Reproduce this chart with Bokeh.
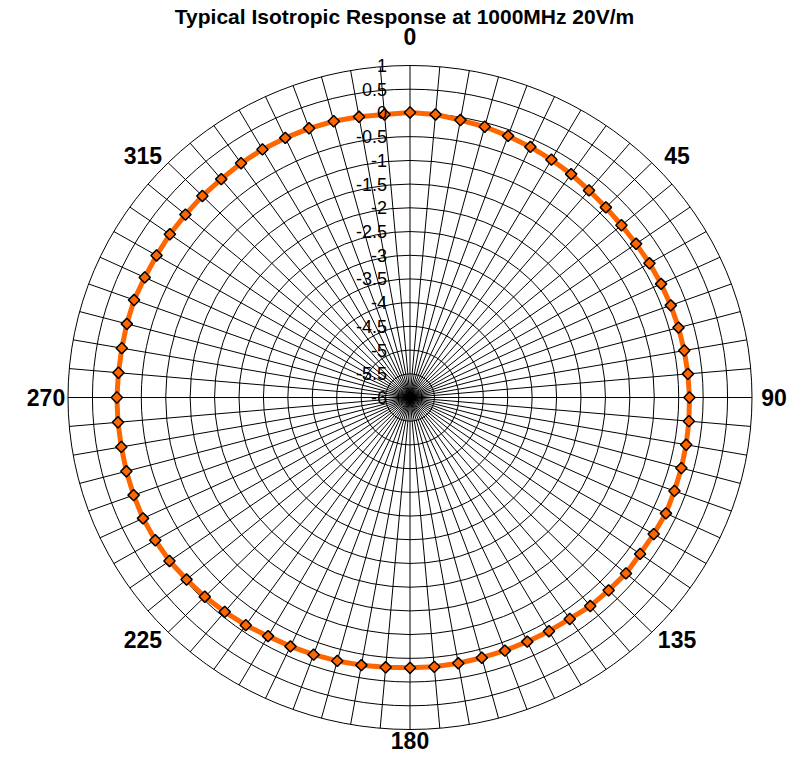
import numpy as np
from bokeh.plotting import figure
from bokeh.models import Range1d
from bokeh.core.properties import value
from bokeh.embed import file_html
from bokeh.resources import INLINE

# ---------------- data ----------------
chart_title = "Typical Isotropic Response at 1000MHz 20V/m"
angles_deg = list(range(0, 360, 5))
response = [
    0.01, -0.01, -0.06, -0.09, -0.13, -0.17, -0.21, -0.25, -0.30, -0.33,
    -0.35, -0.35, -0.34, -0.33, -0.32, -0.31, -0.30, -0.29, -0.28, -0.27,
    -0.26, -0.25, -0.24, -0.22, -0.24, -0.25, -0.23, -0.25, -0.26, -0.30,
    -0.31, -0.32, -0.32, -0.32, -0.31, -0.30, -0.30, -0.29, -0.27, -0.25,
    -0.23, -0.21, -0.19, -0.14, -0.10, -0.06, -0.03, 0.01, 0.02, 0.03,
    0.02, 0.01, 0.00, 0.00, 0.00, -0.01, -0.01, 0.00, 0.01, -0.01,
    -0.01, 0.00, 0.00, 0.01, 0.01, 0.03, 0.04, 0.04, 0.04, 0.03,
    0.01, -0.01,
]
radial_min, radial_max, radial_step = -6.0, 1.0, 0.5
radial_tick_labels = ["-6", "-5.5", "-5", "-4.5", "-4", "-3.5", "-3", "-2.5",
                      "-2", "-1.5", "-1", "-0.5", "0", "0.5", "1"]
angle_label_deg = [0, 45, 90, 135, 180, 225, 270, 315]
angle_label_text = ["0", "45", "90", "135", "180", "225", "270", "315"]
spoke_step_deg = 5

# ---------------- layout ----------------
W, H = 788, 757
cx_px, cy_px = 409.5, 397.0          # plot centre in figure pixels
R_px_x, R_px_y = 342.0, 332.0        # outer radius in pixels (x / y)
span = radial_max - radial_min
sx = R_px_x / span
sy = R_px_y / span

def dx(px):
    return px / sx

def dy(py):
    return py / sy

p = figure(width=W, height=H, output_backend="svg", toolbar_location=None,
           x_range=Range1d(-cx_px / sx, (W - cx_px) / sx),
           y_range=Range1d(-(H - cy_px) / sy, cy_px / sy),
           x_axis_location=None, y_axis_location=None, min_border=0)
p.grid.visible = False
p.outline_line_color = None
p.background_fill_color = "white"

# rings
ring_vals = np.arange(radial_min + radial_step, radial_max + 1e-9, radial_step)
ring_r = ring_vals - radial_min
p.ellipse(x=0, y=0, width=2 * ring_r, height=2 * ring_r,
          fill_color=None, line_color="black", line_width=1)

# spokes
sp = np.deg2rad(np.arange(0, 360, spoke_step_deg))
p.multi_line(xs=[[0, span * np.sin(a)] for a in sp],
             ys=[[0, span * np.cos(a)] for a in sp],
             line_color="black", line_width=1)

# series
th = np.deg2rad(np.array(angles_deg, dtype=float))
rr = np.array(response) - radial_min
xs = rr * np.sin(th)
ys = rr * np.cos(th)
orange = "#FF6600"
p.line(x=np.append(xs, xs[0]), y=np.append(ys, ys[0]),
       line_color=orange, line_width=5)
p.scatter(x=xs, y=ys, marker="square", size=8, angle=np.pi / 4,
          fill_color=orange, line_color="black", line_width=1.5)

# radial tick labels
tick_vals = np.arange(radial_min, radial_max + 1e-9, radial_step)
p.text(x=[0.0] * len(tick_vals), y=list(tick_vals - radial_min),
       text=radial_tick_labels, x_offset=-23, text_align="right",
       text_baseline="middle", text_font=value("Liberation Sans"),
       text_font_size="18px", text_color="black")

# angle labels (kept inside the canvas)
la = np.deg2rad(np.array(angle_label_deg, dtype=float))
s = np.round(np.sin(la), 6)
c = np.round(np.cos(la), 6)
ox = 331 * s + 33 * np.sign(s)
oy = 406 * c - 45 * np.sign(c)
oy = np.maximum(oy, -(H - cy_px - 17))
p.text(x=list(dx(ox)), y=list(dy(oy)), text=angle_label_text,
       text_align="center", text_baseline="middle",
       text_font=value("Liberation Sans"), text_font_style="bold",
       text_font_size="23px", text_color="black")

# title
p.text(x=[dx(404 - cx_px)], y=[dy(cy_px - 16)], text=[chart_title],
       text_align="center", text_baseline="middle",
       text_font=value("Liberation Sans"), text_font_style="bold",
       text_font_size="21px", text_color="black")

open("out.html", "w").write(file_html(p, INLINE))
